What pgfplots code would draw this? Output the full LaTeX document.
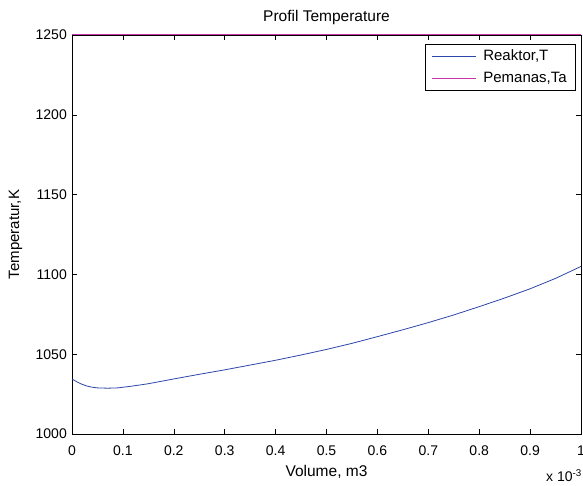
\documentclass[border=0pt]{standalone}
\usepackage{fontspec}
\setmainfont{Liberation Sans}
\usepackage{pgfplots}
\pgfplotsset{compat=1.18}
\definecolor{reakblue}{RGB}{45,70,170}
\definecolor{pemmag}{RGB}{200,50,170}
\begin{document}
\fontsize{14}{16}\selectfont
\begin{tikzpicture}
\begin{axis}[
  set layers,
  scale only axis,
  width=509pt, height=399pt,
  xmin=0, xmax=1, ymin=1000, ymax=1250,
  xtick={0,0.1,...,1.0},
  xticklabels={0,0.1,0.2,0.3,0.4,0.5,0.6,0.7,0.8,0.9,1},
  ytick={1000,1050,1100,1150,1200,1250},
  yticklabels={1000,1050,1100,1150,1200,1250},
  tick align=inside,
  major tick length=5pt,
  every tick/.style={black, line width=0.6pt},
  axis line style={black, line width=0.9pt},
  /pgf/number format/assume math mode=true,
  /pgf/number format/1000 sep={},
  tick label style={font=\fontsize{14}{16}\selectfont},
  xticklabel style={anchor=base, yshift=-21pt, inner sep=0pt},
  yticklabel style={anchor=east, xshift=-5pt, inner sep=0pt},
  title={Profil Temperature},
  title style={at={(axis description cs:0.5,1.018)}, anchor=base, inner sep=0pt, font=\fontsize{15.5}{17}\selectfont},
  xlabel={Volume, m3},
  xlabel style={at={(axis description cs:0.5,-0.1053)}, anchor=base, inner sep=0pt, font=\fontsize{15.5}{17}\selectfont},
  ylabel={Temperatur,K},
  ylabel style={at={(axis description cs:-0.104,0.5)}, anchor=base, inner sep=0pt, font=\fontsize{15}{17}\selectfont},
  clip=false,
  legend style={at={(axis description cs:0.988,0.978)}, anchor=north east,
    draw=black, fill=white, font=\fontsize{15}{17}\selectfont,
    inner xsep=6pt, inner ysep=4pt, row sep=5pt, cells={anchor=west}},
  legend cell align=left,
  legend image code/.code={\draw[#1] (0pt,0pt) -- (44pt,0pt); \path (49pt,0pt);},
]
\addplot[color=reakblue, line width=0.8pt] coordinates {
(0,1034.5) (0.01,1032.6) (0.02,1031.1) (0.03,1030.0) (0.04,1029.3) (0.05,1028.9)
(0.07,1028.7) (0.09,1028.9) (0.10,1029.3) (0.12,1030.1) (0.15,1031.5)
(0.20,1034.5) (0.25,1037.4) (0.30,1040.2) (0.35,1043.2) (0.40,1046.2)
(0.45,1049.5) (0.50,1053.0) (0.55,1056.8) (0.60,1061.0) (0.65,1065.3)
(0.70,1069.8) (0.75,1074.6) (0.80,1079.8) (0.85,1085.2) (0.90,1091.0)
(0.95,1097.5) (1.00,1105.0)
};
\addlegendentry{Reaktor,T}
\addplot[color=pemmag, line width=1pt, on layer=axis foreground] coordinates {(0,1250) (1,1250)};
\addlegendentry{Pemanas,Ta}
\node[anchor=base east, inner sep=0pt] at (axis description cs:1.002,-0.1195) {x 10\textsuperscript{-3}};
\end{axis}
\pgfresetboundingbox
\path ([xshift=-72pt,yshift=-51pt]current axis.south west) rectangle ([xshift=2pt,yshift=35pt]current axis.north east);
\end{tikzpicture}
\end{document}
